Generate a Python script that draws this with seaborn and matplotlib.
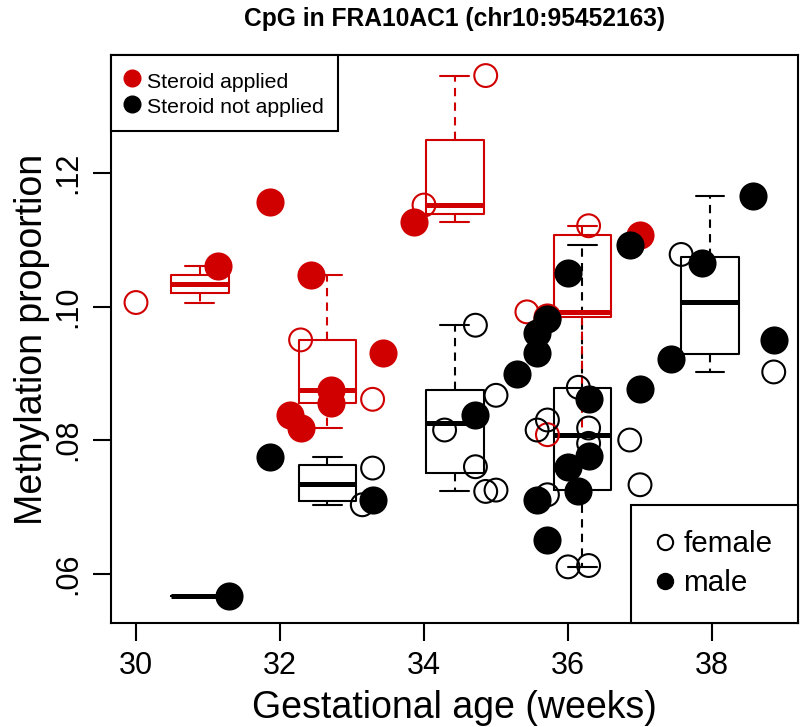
import numpy as np
import pandas as pd
import matplotlib
matplotlib.use("Agg")
import matplotlib.pyplot as plt
from matplotlib.lines import Line2D
import seaborn as sns

RED = "#D00000"

# steroid applied (red points)
red_age = [30.0, 31.143, 31.857, 32.286, 32.143, 32.286, 32.429, 32.714, 32.714, 33.429,
           33.286, 33.857, 34.0, 34.857, 35.429, 35.714, 35.714, 36.286, 37.0]
red_meth = [0.1006, 0.1061, 0.1156, 0.0950, 0.0837, 0.0818, 0.1047, 0.0875, 0.0855, 0.0930,
            0.0861, 0.1126, 0.1152, 0.1346, 0.0992, 0.0808, 0.0985, 0.1121, 0.1107]
red_sex = ["female", "male", "male", "female", "male", "male", "male", "male", "male", "male",
           "female", "male", "female", "female", "female", "female", "male", "female", "male"]

# steroid not applied (black points)
black_age = [31.286, 31.857, 33.286, 33.286, 33.143, 34.714, 34.714, 34.286, 34.714, 34.857,
             35.0, 35.0, 35.286, 35.714, 35.571, 35.571, 35.714, 35.571, 35.571, 35.714,
             35.714, 36.0, 36.857, 36.143, 36.286, 36.286, 36.286, 36.286, 36.0, 36.143,
             36.0, 36.286, 37.0, 36.857, 37.0, 37.429, 37.571, 37.857, 38.571, 38.857, 38.857]
black_meth = [0.0567, 0.0774, 0.0758, 0.0710, 0.0703, 0.0972, 0.0837, 0.0815, 0.0760, 0.0723,
              0.0725, 0.0867, 0.0899, 0.0982, 0.0960, 0.0930, 0.0830, 0.0815, 0.0710, 0.0718,
              0.0650, 0.1050, 0.1092, 0.0879, 0.0861, 0.0818, 0.0795, 0.0776, 0.0760, 0.0723,
              0.0610, 0.0612, 0.0877, 0.0800, 0.0733, 0.0921, 0.1078, 0.1065, 0.1166, 0.0950, 0.0902]
black_sex = ["male", "male", "female", "male", "female", "female", "male", "female", "female", "female",
             "female", "female", "male", "male", "male", "male", "female", "female", "male", "female",
             "male", "male", "male", "female", "male", "female", "female", "male", "male", "male",
             "female", "female", "male", "female", "female", "male", "female", "male", "male", "male", "female"]

df = pd.concat([
    pd.DataFrame({"age": red_age, "meth": red_meth, "sex": red_sex, "steroid": "applied"}),
    pd.DataFrame({"age": black_age, "meth": black_meth, "sex": black_sex, "steroid": "not"}),
], ignore_index=True)

# 5 equal-width age bins, boxes drawn at the bin middles
edges = np.linspace(df["age"].min(), df["age"].max(), 6)
mids = (edges[:-1] + edges[1:]) / 2
df["pos"] = mids[np.digitize(df["age"], edges[1:-1], right=True)]
step = edges[1] - edges[0]

sns.set_style("ticks")
plt.rcParams["font.family"] = ["Liberation Sans", "DejaVu Sans"]
plt.rcParams.update({"text.color": "black", "axes.labelcolor": "black",
                     "xtick.color": "black", "ytick.color": "black"})

fig = plt.figure(figsize=(8, 7.27), dpi=100)
ax = fig.add_axes([111 / 800, 1 - 623 / 727, 687 / 800, 568 / 727])

for grp, col in [("not", "black"), ("applied", RED)]:
    sub = df[df["steroid"] == grp]
    sns.boxplot(data=sub, x="pos", y="meth", native_scale=True, orient="x",
                width=0.8 / step, fill=False, color=col, saturation=1,
                linewidth=1.5, showfliers=False, whis=1.5,
                medianprops={"linewidth": 3.6},
                whiskerprops={"linestyle": (0, (4, 3))}, ax=ax)

for grp, col in [("applied", RED), ("not", "black")]:
    sub = df[df["steroid"] == grp]
    fem = sub[sub["sex"] == "female"]
    mal = sub[sub["sex"] == "male"]
    sns.scatterplot(data=fem, x="age", y="meth", s=270, marker="o", facecolor="none",
                    edgecolor=col, linewidth=1.5, legend=False, zorder=3, ax=ax)
    sns.scatterplot(data=mal, x="age", y="meth", s=410, marker="o", color=col,
                    edgecolor=col, linewidth=0, legend=False, zorder=3, ax=ax)

ax.set_xlim(29.653, 39.194)
ax.set_ylim(0.05259, 0.13768)
ax.set_xticks([30, 32, 34, 36, 38])
ax.set_xticklabels(["30", "32", "34", "36", "38"], fontsize=22)
ax.set_yticks([0.06, 0.08, 0.10, 0.12])
ax.set_yticklabels([".06", ".08", ".10", ".12"], fontsize=22, rotation=90, va="center")
ax.tick_params(axis="both", length=13, width=1.5, pad=7)
for sp in ax.spines.values():
    sp.set_linewidth(1.5)
    sp.set_color("black")

ax.set_xlabel("Gestational age (weeks)", fontsize=27, labelpad=7)
ax.set_ylabel("Methylation proportion", fontsize=27, labelpad=2)
fig.text(455 / 800, 1 - 19 / 727, "CpG in FRA10AC1 (chr10:95452163)", fontsize=17.7,
         fontweight="bold", ha="center", va="center")

h1 = [Line2D([], [], ls="", marker="o", ms=12, color=RED),
      Line2D([], [], ls="", marker="o", ms=12, color="black")]
leg1 = ax.legend(h1, ["Steroid applied", "Steroid not applied"], loc="upper left",
                 bbox_to_anchor=(0, 1), borderaxespad=0, fontsize=15.3, fancybox=False,
                 edgecolor="black", framealpha=1, handlelength=0.6, handletextpad=0.4,
                 handleheight=1.2, labelspacing=0.15, borderpad=0.68)
leg1.get_frame().set_linewidth(1.5)
ax.add_artist(leg1)

h2 = [Line2D([], [], ls="", marker="o", ms=11, mfc="none", mec="black", mew=1.5),
      Line2D([], [], ls="", marker="o", ms=11.5, color="black")]
leg2 = ax.legend(h2, ["female", "male"], loc="lower right", bbox_to_anchor=(1, 0),
                 borderaxespad=0, fontsize=21.3, fancybox=False, edgecolor="black",
                 framealpha=1, handlelength=0.6, handletextpad=0.3, labelspacing=0.37,
                 borderpad=0.87)
leg2.get_frame().set_linewidth(1.5)

fig.savefig("out.png", dpi=100)
